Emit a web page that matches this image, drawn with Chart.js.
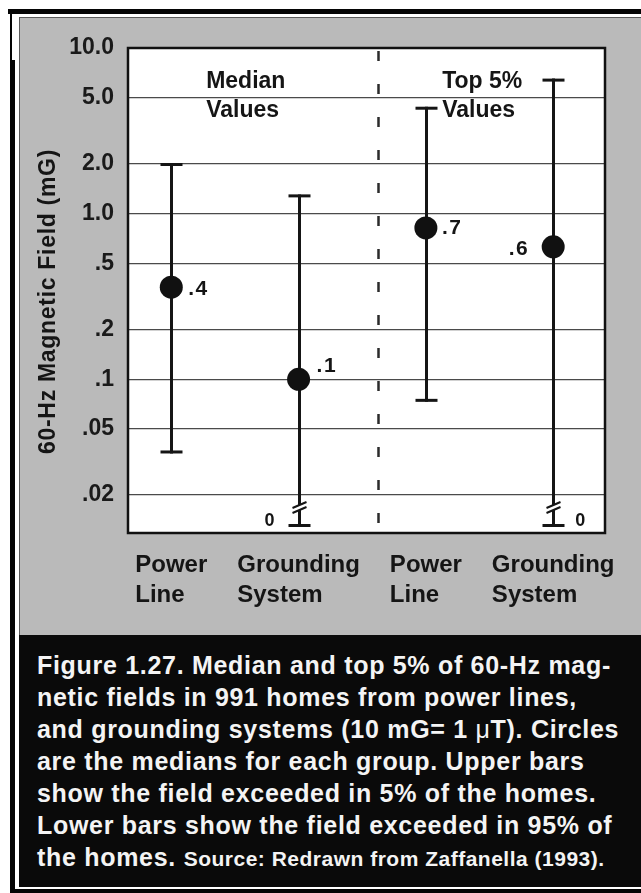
<!DOCTYPE html>
<html>
<head>
<meta charset="utf-8">
<script src="https://cdn.jsdelivr.net/npm/chart.js@4/dist/chart.umd.min.js"></script>
<style>
  html, body { margin: 0; padding: 0; background: #fff; }
  body { width: 641px; height: 893px; position: relative; overflow: hidden; font-family: "Liberation Sans", Arial, Helvetica, sans-serif; }
  .blk { position: absolute; background: #050505; }
  #panel { position: absolute; left: 19px; top: 17px; width: 622px; height: 618px; background: #bababa; border-left: 1px solid #5a5a5a; border-top: 1px solid #5a5a5a; box-sizing: border-box; }
  #capbox { position: absolute; left: 19px; top: 635px; width: 622px; height: 252px; background: #0a0a0a; }
  #caption { position: absolute; left: 37px; top: 649px; color: #f4f4f4; font-weight: bold; font-size: 25px; line-height: 32px; letter-spacing: 0.7px; white-space: nowrap; }
  #caption .src { font-size: 21px; letter-spacing: 0.5px; }
  #caption .mu { font-weight: normal; }
  #wrap { position: absolute; left: 0; top: 0; width: 641px; height: 635px; }
</style>
</head>
<body>
<div class="blk" style="left:8px; top:9px; width:633px; height:5px;"></div>
<div class="blk" style="left:10px; top:9px; width:2px; height:60px;"></div>
<div class="blk" style="left:10px; top:60px; width:5px; height:833px;"></div>
<div id="panel"></div>
<div id="capbox"></div>
<div class="blk" style="left:15px; top:889px; width:626px; height:4px;"></div>
<div id="caption">
Figure 1.27. Median and top 5% of 60-Hz mag-<br>
netic fields in 991 homes from power lines,<br>
and grounding systems (10 mG= 1 <span class="mu">μ</span>T). Circles<br>
are the medians for each group. Upper bars<br>
show the field exceeded in 5% of the homes.<br>
Lower bars show the field exceeded in 95% of<br>
the homes. <span class="src">Source: Redrawn from Zaffanella (1993).</span>
</div>
<div id="wrap"><canvas id="c" width="641" height="635"></canvas></div>
<script>
// ---------- data ----------
const categoryNames = ['Power Line', 'Grounding System', 'Power Line', 'Grounding System'];
const groupLabels = [['Median', 'Values'], ['Top 5%', 'Values']];
const groupOf = [0, 0, 1, 1];
const medians = [0.36, 0.10, 0.82, 0.63];          // circles
const upperValues = [1.98, 1.28, 4.33, 6.4];       // field exceeded in 5% of homes
const lowerValues = [0.0364, 0, 0.0746, 0];        // field exceeded in 95% of homes (0 = broken axis)
const medianLabels = ['.4', '.1', '.7', '.6'];
const yTickValues = [10, 5, 2, 1, 0.5, 0.2, 0.1, 0.05, 0.02];
const yTickLabels = ['10.0', '5.0', '2.0', '1.0', '.5', '.2', '.1', '.05', '.02'];
const groupBoundary = 2.62;
const yTitle = '60-Hz Magnetic Field (mG)';

// ---------- drawing ----------
const FONT = '"Liberation Sans", Arial, Helvetica, sans-serif';
const INK = '#151515';

function seg(ctx, x1, y1, x2, y2) {
  ctx.beginPath(); ctx.moveTo(x1, y1); ctx.lineTo(x2, y2); ctx.stroke();
}

const figurePlugin = {
  id: 'figure',
  beforeDraw(chart) {
    const { ctx, chartArea: a } = chart;
    ctx.save();
    ctx.fillStyle = '#ffffff';
    ctx.fillRect(a.left, a.top, a.right - a.left, a.bottom - a.top);
    ctx.restore();
  },
  beforeDatasetsDraw(chart) {
    const { ctx, chartArea: a, scales: { x, y } } = chart;
    ctx.save();
    // group divider
    const dx = Math.round(x.getPixelForValue(groupBoundary)) + 0.5;
    ctx.strokeStyle = '#2b2b2b';
    ctx.lineWidth = 2.5;
    ctx.setLineDash([10, 23]);
    seg(ctx, dx, a.top + 3, dx, a.bottom);
    ctx.setLineDash([]);
    // range bars
    ctx.strokeStyle = INK;
    const capW = 11;
    medians.forEach((m, i) => {
      const px = Math.round(x.getPixelForValue(i + 1)) + 0.5;
      const yTop = y.getPixelForValue(upperValues[i]);
      ctx.lineWidth = 3;
      seg(ctx, px - capW, yTop, px + capW, yTop);
      if (lowerValues[i] > 0) {
        const yLow = y.getPixelForValue(lowerValues[i]);
        seg(ctx, px, yTop - 1.5, px, yLow + 1.5);
        seg(ctx, px - capW, yLow, px + capW, yLow);
      } else {
        const yb = a.bottom;
        seg(ctx, px, yTop - 1.5, px, yb - 28);
        ctx.lineWidth = 2;
        seg(ctx, px - 7, yb - 25, px + 7, yb - 31);
        seg(ctx, px - 7, yb - 20, px + 7, yb - 26);
        ctx.lineWidth = 3;
        seg(ctx, px, yb - 23, px, yb - 7);
        seg(ctx, px - capW, yb - 7.5, px + capW, yb - 7.5);
      }
    });
    ctx.restore();
  },
  afterDatasetsDraw(chart, args, opts) {
    const { ctx, chartArea: a, scales: { x, y } } = chart;
    ctx.save();
    // plot frame
    ctx.strokeStyle = '#111';
    ctx.lineWidth = 2.5;
    ctx.strokeRect(a.left, a.top, a.right - a.left, a.bottom - a.top);

    ctx.fillStyle = INK;
    // median value labels
    ctx.font = 'bold 21px ' + FONT;
    ctx.letterSpacing = '1.5px';
    ctx.textBaseline = 'middle';
    medians.forEach((m, i) => {
      const p = opts.labelPlacement[i];
      const px = x.getPixelForValue(i + 1);
      const py = y.getPixelForValue(m);
      ctx.textAlign = p.side === 'left' ? 'right' : 'left';
      ctx.fillText(medianLabels[i], px + p.dx, py + p.dy);
      if (lowerValues[i] === 0) {
        ctx.font = 'bold 18px ' + FONT;
        ctx.letterSpacing = '0px';
        ctx.textAlign = 'center';
        const zx = p.side === 'left' ? px + 27 : px - 29;
        ctx.fillText('0', zx, a.bottom - 12);
        ctx.font = 'bold 21px ' + FONT;
        ctx.letterSpacing = '1.5px';
      }
    });
    ctx.letterSpacing = '0px';

    // category labels (left-aligned blocks centred under each bar)
    ctx.font = 'bold 24px ' + FONT;
    ctx.textAlign = 'left';
    ctx.textBaseline = 'alphabetic';
    categoryNames.forEach((name, i) => {
      const lines = name.split(' ');
      const w = Math.max(...lines.map(l => ctx.measureText(l).width));
      const left = x.getPixelForValue(i + 1) - w / 2;
      lines.forEach((l, k) => ctx.fillText(l, left, a.bottom + 39 + k * 30));
    });

    // group labels
    ctx.font = 'bold 23px ' + FONT;
    const bx = x.getPixelForValue(groupBoundary);
    groupLabels.forEach((lines, g) => {
      const c = g === 0 ? (a.left + bx) / 2 : (bx + a.right) / 2;
      const w = Math.max(...lines.map(l => ctx.measureText(l).width));
      const left = c - w / 2 - (g === 0 ? 7 : 9);
      lines.forEach((l, k) => ctx.fillText(l, left, a.top + 40 + k * 29));
    });

    // y axis title
    ctx.save();
    ctx.translate(49, (a.top + a.bottom) / 2 + 11);
    ctx.rotate(-Math.PI / 2);
    ctx.font = 'bold 23px ' + FONT;
    ctx.letterSpacing = '0.7px';
    ctx.textAlign = 'center';
    ctx.textBaseline = 'middle';
    ctx.fillText(yTitle, 0, 0);
    ctx.restore();
    ctx.restore();
  }
};

new Chart(document.getElementById('c'), {
  type: 'scatter',
  data: {
    datasets: [{
      data: medians.map((v, i) => ({ x: i + 1, y: v })),
      pointRadius: 11.5,
      pointHoverRadius: 11.5,
      pointBackgroundColor: '#111',
      pointBorderWidth: 0,
      showLine: false
    }]
  },
  options: {
    responsive: false,
    animation: false,
    events: [],
    layout: { padding: { left: 0, top: 48, right: 36, bottom: 102 } },
    plugins: {
      legend: { display: false },
      tooltip: { enabled: false },
      figure: {
        labelPlacement: [
          { side: 'right', dx: 17, dy: 2 },
          { side: 'right', dx: 18, dy: -13 },
          { side: 'right', dx: 16, dy: 0 },
          { side: 'left', dx: -24, dy: 2 }
        ]
      }
    },
    scales: {
      x: { type: 'linear', min: 0.66, max: 4.407, display: false },
      y: {
        type: 'logarithmic',
        min: 0.0118,
        max: 10,
        afterBuildTicks: (s) => { s.ticks = yTickValues.map(v => ({ value: v })); },
        afterFit: (s) => { s.width = 128; },
        grid: { color: '#4a4a4a', lineWidth: 1.3, drawTicks: false },
        border: { display: false },
        ticks: {
          autoSkip: false,
          padding: 14,
          color: '#1a1a1a',
          font: { family: FONT, weight: 'bold', size: 23 },
          callback: (v, i) => yTickLabels[i]
        }
      }
    }
  },
  plugins: [figurePlugin]
});
</script>
</body>
</html>
